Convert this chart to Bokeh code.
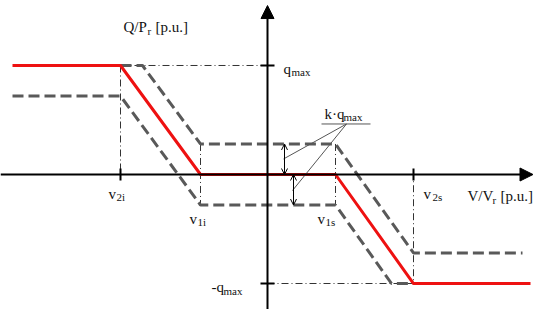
from bokeh.plotting import figure
from bokeh.models import Range1d, Arrow, NormalHead, OpenHead, ColumnDataSource
from bokeh.core.properties import value
from bokeh.embed import file_html
from bokeh.resources import INLINE

# ---- characteristic values (p.u.) ----
v2i, v1i, v1s, v2s = -1.47, -0.67, 0.68, 1.46
q_max = 1.0
k = 0.28

# nominal Q(V) characteristic (red)
red_x = [-2.55, -1.47, -0.67, 0.68, 1.46, 2.63]
red_y = [1.0, 1.0, 0.0, 0.0, -1.0, -1.0]
# characteristic shifted up by k*q_max (grey dashed)
upper_x = [-1.47, -1.25, -0.67, 0.68, 1.46, 2.55]
upper_y = [1.0, 1.0, 0.28, 0.28, -0.72, -0.72]
# characteristic shifted down by k*q_max (grey dashed)
lower_x = [-2.55, -1.47, -0.67, 0.68, 1.24, 1.46]
lower_y = [0.72, 0.72, -0.28, -0.28, -1.0, -1.0]

# scale: pixels per unit (for text offsets)
PXX, PXY = 100.0, 109.0

p = figure(width=534, height=309, output_backend="svg", toolbar_location=None,
           x_range=Range1d(-2.67, 2.67), y_range=Range1d(-1.2385, 1.5963),
           x_axis_type=None, y_axis_type=None, min_border=0)
p.grid.visible = False
p.outline_line_color = None
p.background_fill_color = "white"
p.border_fill_color = "white"

# dash-dot reference lines
ref_xs = [[v2i, 0], [v2i, v2i], [v1i, v1i], [v1s, v1s], [v2s, v2s], [0, v2s]]
ref_ys = [[q_max, q_max], [q_max, 0], [k, -k], [k, -k], [0.03, -q_max], [-q_max, -q_max]]
p.multi_line(ref_xs, ref_ys, line_color="#333333", line_width=1, line_dash="7 3 1 3")

# dashed shifted characteristics
p.line(upper_x, upper_y, line_color="#595959", line_width=3, line_dash="11 5")
p.line(lower_x, lower_y, line_color="#595959", line_width=3, line_dash="11 5")

# red characteristic
p.line(red_x, red_y, line_color="#ee1111", line_width=3)

# axes with arrows
p.add_layout(Arrow(end=NormalHead(size=13, fill_color="black", line_color="black"),
                   x_start=-2.67, y_start=0, x_end=2.655, y_end=0,
                   line_width=2, line_color="black"))
p.add_layout(Arrow(end=NormalHead(size=13, fill_color="black", line_color="black"),
                   x_start=0, y_start=-1.25, x_end=0, y_end=1.55,
                   line_width=2, line_color="black"))

# ticks
tx = 6 / PXY
ty = 7 / PXX
p.multi_line([[v2i, v2i], [v2s, v2s], [-ty, ty], [-ty, ty]],
             [[-tx, tx], [-tx, tx], [q_max, q_max], [-q_max, -q_max]],
             line_color="black", line_width=2)

# k*q_max double arrows
ax1 = 17 / PXX
ax2 = 26 / PXX
for xa, y0, y1 in [(ax1, k, 0), (ax2, 0, -k)]:
    p.add_layout(Arrow(start=OpenHead(size=6, line_width=1, line_color="black"),
                       end=OpenHead(size=6, line_width=1, line_color="black"),
                       x_start=xa, y_start=y0, x_end=xa, y_end=y1,
                       line_width=1, line_color="black"))

# leader lines and underline for k*q_max label
uy = k + 20 / PXY
ux = 79 / PXX
p.multi_line([[54 / PXX, 103 / PXX], [ux, 16 / PXX], [ux, 25 / PXX]],
             [[uy, uy], [uy, k - 15 / PXY], [uy, -16 / PXY]],
             line_color="#555555", line_width=1)

# ---- labels: (text, anchor x, anchor y, dx px right, dy px down) ----
main_labels = [
    ("Q/P", 0, 0, -144, -147), ("[p.u.]", 0, 0, -112, -147),
    ("V/V", 0, 0, 200, 21), ("[p.u.]", 0, 0, 233, 21),
    ("q", 0, q_max, 16, 4),
    ("-q", 0, -q_max, -56, 3),
    ("k\u00b7q", 0, k, 57, -30),
    ("v", v2i, 0, -12, 19),
    ("v", v1i, 0, -11, 44),
    ("v", v1s, 0, -18, 44),
    ("v", v2s, 0, 10, 19),
]
sub_labels = [
    ("r", 0, 0, -120, -143),
    ("r", 0, 0, 225, 25),
    ("max", 0, q_max, 24, 7),
    ("max", 0, -q_max, -44, 7),
    ("max", 0, k, 76, -27),
    ("2i", v2i, 0, -4, 22),
    ("1i", v1i, 0, -3, 47),
    ("1s", v1s, 0, -10, 47),
    ("2s", v2s, 0, 19, 22),
]


def src(labels):
    return ColumnDataSource(dict(
        x=[a + dx / PXX for _, a, b, dx, dy in labels],
        y=[b - dy / PXY for _, a, b, dx, dy in labels],
        t=[t for t, *_ in labels]))


p.text("x", "y", text="t", source=src(main_labels), text_font=value("Liberation Serif"),
       text_font_size="15px", text_color="#111111", text_align="left",
       text_baseline="alphabetic")
p.text("x", "y", text="t", source=src(sub_labels), text_font=value("Liberation Serif"),
       text_font_size="11px", text_color="#111111", text_align="left",
       text_baseline="alphabetic")

open("out.html", "w").write(file_html(p, INLINE))
